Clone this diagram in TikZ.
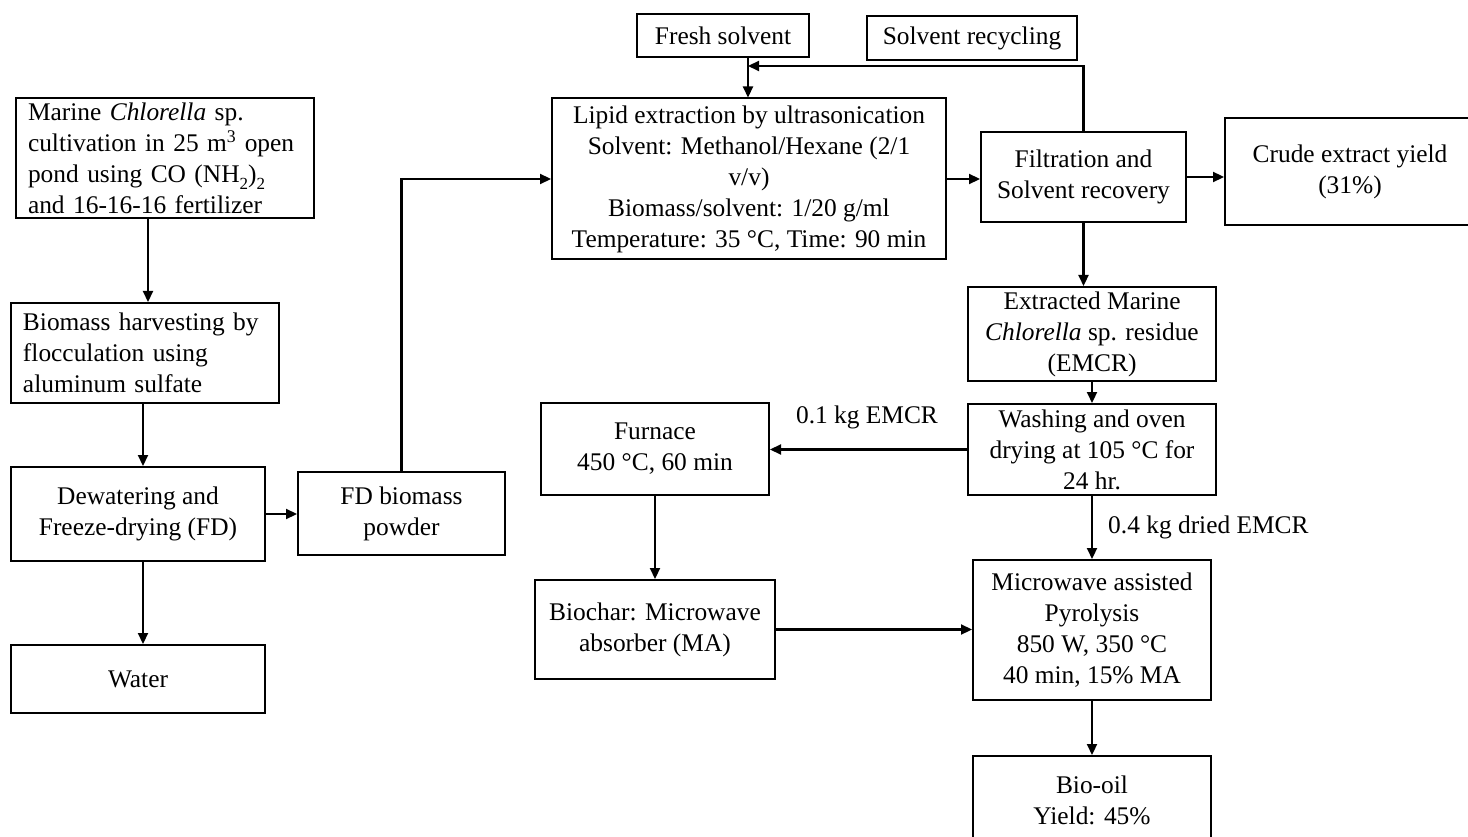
\documentclass[tikz,border=0pt]{standalone}
\usepackage{fontspec}
\setmainfont{Liberation Serif}
\usetikzlibrary{arrows.meta}
\newcommand{\lowsub}[1]{\raisebox{-0.28em}{\fontsize{17}{17}\selectfont #1}}
\begin{document}
\begin{tikzpicture}[x=1pt,y=-1pt,
  box/.style={draw,line width=2pt,rectangle,inner sep=0pt,align=center,
    font=\fontsize{25.4}{31}\selectfont},
  lbl/.style={inner sep=0pt,font=\fontsize{25.4}{31}\selectfont},
  arr/.style={line width=2.2pt,-{Triangle[length=11pt,width=10pt]}}]
\useasboundingbox (0,0) rectangle (1468,837);
\clip (0,0) rectangle (1468,837);

% left column: cultivation and harvesting
\node[box,align=left,text width=274pt,minimum width=298pt,minimum height=120pt] (marine) at (165,158)
  {Marine \textit{Chlorella} sp.\\cultivation in 25 m\textsuperscript{3} open\\pond using CO (NH\lowsub{2})\lowsub{2}\\and 16-16-16 fertilizer};
\node[box,align=left,text width=244pt,minimum width=268pt,minimum height=100pt] (harvest) at (145,353)
  {Biomass harvesting by\\flocculation using\\aluminum sulfate};
\node[box,minimum width=254pt,minimum height=94pt] (dewater) at (138,514)
  {Dewatering and\\Freeze-drying (FD)};
\node[box,minimum width=254pt,minimum height=68pt] (water) at (138,679) {Water};
\node[box,minimum width=207pt,minimum height=83pt] (fd) at (401.5,513.5) {FD biomass\\powder};

% extraction
\node[box,minimum width=394pt,minimum height=161pt] (lipid) at (749,179)
  {Lipid extraction by ultrasonication\\Solvent: Methanol/Hexane (2/1\\v/v)\\Biomass/solvent: 1/20 g/ml\\Temperature: 35 °C, Time: 90 min};
\node[box,minimum width=172pt,minimum height=43pt] (fresh) at (723,35.5) {Fresh solvent};
\node[box,minimum width=210pt,minimum height=44pt] (recyc) at (972,38) {Solvent recycling};
\node[box,minimum width=205pt,minimum height=90pt] (filt) at (1083.5,177) {Filtration and\\Solvent recovery};
\node[box,minimum width=250pt,minimum height=107pt] (crude) at (1350,172) {Crude extract yield\\(31\%)};

% residue treatment and pyrolysis
\node[box,minimum width=248pt,minimum height=94pt] (extr) at (1092,334)
  {Extracted Marine\\\textit{Chlorella} sp. residue\\(EMCR)};
\node[box,minimum width=248pt,minimum height=91pt] (wash) at (1092,449.5)
  {Washing and oven\\drying at 105 °C for\\24 hr.};
\node[box,minimum width=228pt,minimum height=92pt] (furnace) at (655,449) {Furnace\\450 °C, 60 min};
\node[box,minimum width=240pt,minimum height=99pt] (biochar) at (655,629.5) {Biochar: Microwave\\absorber (MA)};
\node[box,minimum width=238pt,minimum height=140pt] (micro) at (1092,630)
  {Microwave assisted\\Pyrolysis\\850 W, 350 °C\\40 min, 15\% MA};
\node[box,minimum width=238pt,minimum height=88pt] (biooil) at (1092,800) {Bio-oil\\Yield: 45\%};

\coordinate (join) at (748,66);

% connectors
\draw[arr] (marine.south -| 148,0) -- (harvest.north -| 148,0);
\draw[arr] (harvest.south -| 143,0) -- (dewater.north -| 143,0);
\draw[arr] (dewater.south -| 143,0) -- (water.north -| 143,0);
\draw[arr] (dewater.east) -- (dewater.east -| fd.west);
\draw[arr] (fd.north) |- (lipid.west);
\draw[arr] (fresh.south -| join) -- (lipid.north -| join);
\draw[arr] (filt.north) |- (join);
\draw[arr] (lipid.east) -- (lipid.east -| filt.west);
\draw[arr] (filt.east) -- (filt.east -| crude.west);
\draw[arr] (filt.south) -- (filt.south |- extr.north);
\draw[arr] (extr.south) -- (wash.north);
\draw[arr] (wash.west) -- (wash.west -| furnace.east);
\draw[arr] (wash.south) -- (micro.north);
\draw[arr] (furnace.south) -- (biochar.north);
\draw[arr] (biochar.east) -- (biochar.east -| micro.west);
\draw[arr] (micro.south) -- (biooil.north);

% flow labels
\node[lbl] (lblA) at (867,417) {0.1 kg EMCR};
\node[lbl,anchor=west] (lblB) at (1108,527) {0.4 kg dried EMCR};
\end{tikzpicture}
\end{document}
